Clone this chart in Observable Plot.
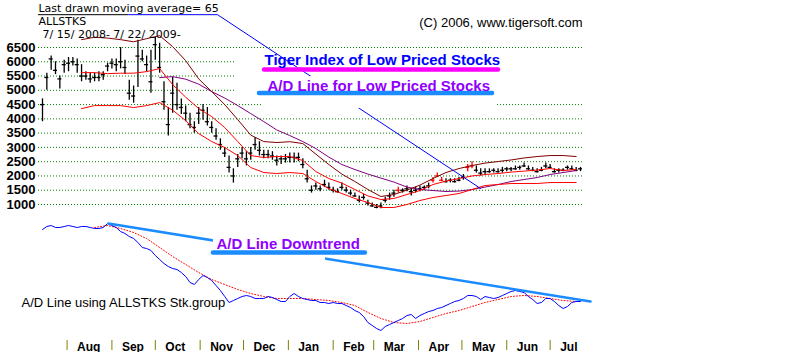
<!DOCTYPE html>
<html><head><meta charset="utf-8">
<script src="https://cdn.jsdelivr.net/npm/d3@7"></script>
<script src="https://cdn.jsdelivr.net/npm/@observablehq/plot@0.6"></script>
<style>
html,body{margin:0;padding:0;background:#fff;}
#chart{position:relative;width:800px;height:352px;overflow:hidden;background:#fff;}
#chart svg{position:absolute;left:0;top:0;}
</style></head>
<body><div id="chart"></div>
<script>
const D = s => new Date(s);
const FONT = "'Liberation Sans', Arial, sans-serif";
const HEADER_FONT = "'DejaVu Sans', 'Liberation Sans', sans-serif";

// ---------- time frame ----------
const startDate = D("2008-07-15T00:00Z");
const endDate = D("2009-07-22T00:00Z");
const monthStarts = ["2008-08-01","2008-09-01","2008-10-01","2008-11-01","2008-12-01","2009-01-01",
  "2009-02-01","2009-03-01","2009-04-01","2009-05-01","2009-06-01","2009-07-01"].map(s => D(s + "T00:00Z"));

// ---------- price axis ----------
const priceTicks = [1000,1500,2000,2500,3000,3500,4000,4500,5000,5500,6000,6500];

// ---------- price bars (every 3rd calendar day) ----------
const barHigh = [4700,5600,6200,6000,5500,6050,6150,6150,6100,5900,
  5650,5600,5600,5650,5650,5950,6100,6100,6500,6050,
  5350,5150,6750,6400,6200,6400,6850,6650,5300,4400,
  5450,5250,4700,4450,4200,3900,4400,4500,4400,3900,
  3650,3300,3000,2700,2250,2750,3000,2850,3000,3350,
  3200,2900,2900,2850,2700,2700,2750,2800,2800,2800,
  2600,2200,1650,1750,1650,1850,1750,1600,1550,1750,
  1600,1500,1400,1300,1350,1150,1050,1000,1050,1250,
  1400,1500,1600,1550,1650,1550,1600,1650,1650,1750,
  1950,2100,1950,1900,1900,1900,1950,2050,2400,2500,
  2350,2250,2250,2250,2250,2250,2300,2300,2300,2350,
  2350,2450,2350,2300,2250,2300,2450,2400,2250,2250,
  2250,2350,2350,2300,2300];
const barLow = [3900,5000,5700,5550,5050,5600,5650,5850,5600,5300,
  5350,5250,5300,5300,5350,5650,5750,5650,5750,5550,
  4650,4550,5100,6000,5650,4900,6050,5600,4300,3400,
  4200,4300,4150,3900,3650,3500,3800,3950,3750,3500,
  3250,2900,2650,2100,1750,2300,2600,2350,2550,2900,
  2700,2600,2600,2550,2350,2400,2450,2450,2450,2500,
  2250,1750,1400,1500,1450,1600,1500,1400,1400,1500,
  1400,1300,1250,1050,1150,950,900,850,850,1050,
  1150,1250,1400,1400,1450,1300,1400,1450,1500,1550,
  1750,1950,1800,1750,1750,1750,1800,1850,2150,2250,
  2100,2000,2050,2100,2100,2100,2100,2150,2150,2200,
  2200,2300,2200,2150,2100,2150,2250,2250,2100,2100,
  2150,2200,2200,2150,2150];
const barClose = [4500,5450,6100,5700,5400,5900,5950,6000,5900,5500,
  5500,5400,5450,5450,5550,5850,5950,5900,6000,5800,
  4900,4800,6200,6100,5900,5300,6600,5800,4600,3800,
  4900,4500,4400,4200,3800,3700,4200,4300,3900,3700,
  3400,3100,2800,2300,2000,2600,2800,2600,2800,3100,
  2900,2750,2750,2700,2550,2600,2600,2650,2650,2650,
  2400,1900,1500,1650,1550,1700,1600,1500,1450,1600,
  1500,1400,1300,1150,1250,1050,950,900,950,1150,
  1300,1400,1500,1500,1550,1450,1500,1550,1600,1650,
  1850,2000,1850,1800,1850,1800,1850,1950,2300,2350,
  2200,2100,2150,2150,2200,2150,2200,2250,2250,2250,
  2300,2350,2250,2200,2150,2200,2350,2300,2150,2200,
  2200,2300,2250,2200,2250];
const redBars = [82,90,91,92,98,99];

// ---------- moving averages / bands (every 9th calendar day) ----------
const upperBand = [null,null,null,
  6775,6860,6830,6775,6700,6810,6915,6530,6040,5400,
  4955,4500,3975,3430,3205,3170,3200,3135,2765,2400,
  2065,1805,1525,1280,1350,1505,1680,1910,2120,2260,
  2365,2450,2505,2560,2630,2680,2715,2715,2680];
const midLine = [null,null,null,
  5620,5620,5585,5600,5600,5655,5760,5200,4760,4360,
  4080,3695,3205,2715,2645,2680,2680,2540,2155,1910,
  1750,1525,1300,1175,1210,1350,1490,1700,1820,1910,
  2000,2050,2085,2135,2170,2205,2260,2190,2225];
const lowerBand = [null,null,null,
  4360,4465,4465,4465,4395,4465,4570,4305,3940,3485,
  3205,2995,2715,2295,2120,2085,2120,2085,1805,1560,
  1385,1210,1070,895,895,1000,1140,1245,1315,1385,
  1525,1665,1700,1735,1735,1735,1770,1770,1770];
const longMA = [null,null,null,null,null,null,null,null,null,
  5445,5480,5390,5215,4955,4730,4465,4185,3905,3610,
  3415,3205,2960,2660,2400,2225,2065,1925,1785,1610,
  1525,1490,1455,1470,1525,1610,1700,1805,1875,1945,
  2050,2120,2190];

// ---------- A/D line (every 3rd day) and its average (every 9th day) ----------
const adLine = [910,940,950,930,930,940,950,940,930,940,
  940,930,920,920,930,970,950,930,890,870,
  840,820,780,730,720,700,650,610,570,540,
  520,510,480,440,380,360,410,450,430,400,
  350,300,240,180,200,220,240,250,240,220,
  220,220,240,230,210,190,190,240,270,240,
  220,210,200,200,180,180,170,180,170,170,
  150,130,100,80,40,-20,-50,-80,-100,-60,
  -40,-20,0,20,50,60,20,50,70,90,
  100,120,130,150,170,190,200,220,250,250,
  240,210,240,230,220,230,250,270,290,300,
  290,280,240,210,170,180,220,220,190,150,
  120,140,180,190,190];
const adAverage = [null,null,null,null,
  930,950,920,880,820,730,640,560,480,410,
  360,310,270,240,220,220,220,210,200,180,
  150,80,20,-20,-30,-10,30,70,100,140,
  180,210,240,250,240,220,200,190];

// ---------- annotations (data units) ----------
const headerTexts = ["Last drawn moving average= 65", "ALLSTKS", "7/ 15/ 2008- 7/ 22/ 2009-"];
const headerDates = ["2008-07-12T05:30Z", "2008-07-12T05:30Z", "2008-07-15T00:00Z"];
const headerPrices = [7738, 7283, 6828];
const copyrightText = "(C) 2006, www.tigersoft.com";
const copyrightAt = {date: "2009-07-23T10:00Z", price: 7213};
const titleUnderline = {from: "2008-07-12T05:30Z", to: "2008-09-12T12:00Z", price: 7650};
const pointerDates = ["2008-09-12T12:00Z", "2008-11-13T00:00Z", "2009-05-13T22:00Z"];
const pointerPrices = [7650, 7650, 1560];
const legendTexts = ["Tiger Index of Low Priced Stocks", "A/D Line for Low Priced Stocks"];
const legendDates = ["2008-12-15T12:00Z", "2008-12-17T14:00Z"];
const legendPrices = [5900, 4990];
const legendBarFrom = ["2008-12-15T12:00Z", "2008-12-12T00:00Z"];
const legendBarTo = ["2009-05-26T07:00Z", "2009-05-22T05:00Z"];
const legendBarPrice = [5725, 4903];
const gridMask = {from: "2008-11-26T02:00Z", to: "2009-07-24T02:00Z", hi: 6320, lo: 4745};
const legendMask = {from: "2008-12-14T02:00Z", to: "2009-05-25T14:00Z", hi: 5480, lo: 4360};

const adTrendDates = ["2008-08-29T14:00Z", "2009-07-28T22:00Z"];
const adTrendValues = [970, 190];
const adLabel = {text: "A/D Line Downtrend", date: "2008-11-12T07:00Z", value: 720};
const adLabelBar = {from: "2008-11-10T05:00Z", to: "2009-02-23T07:00Z", value: 680};
const adMask = {from: "2008-11-10T05:00Z", to: "2009-01-26T17:00Z", hi: 880, lo: 580};
const adCaption = {text: "A/D Line using ALLSTKS Stk.group", date: "2008-06-30T12:00Z", value: 135};

// ---------- build tables ----------
const barDates = barHigh.map((_, i) => d3.utcDay.offset(startDate, 3 * i));
const bars = barDates.map((date, i) => ({date, high: barHigh[i], low: barLow[i], close: barClose[i], red: redBars.includes(i)}));
const lineDates = midLine.map((_, k) => d3.utcDay.offset(startDate, 9 * k));
const series = arr => lineDates.map((date, k) => ({date, v: arr[k]}));
const adData = barDates.map((date, i) => ({date, v: adLine[i]}));
const adAvgData = lineDates.map((date, k) => ({date, v: adAverage[k]}));

const headers = headerTexts.map((text, i) => ({text, date: D(headerDates[i]), price: headerPrices[i]}));
const pointer = pointerDates.map((d, i) => ({date: D(d), price: pointerPrices[i]}));
const legends = legendTexts.map((text, i) => ({text, date: D(legendDates[i]), price: legendPrices[i],
  x1: D(legendBarFrom[i]), x2: D(legendBarTo[i]), bar: legendBarPrice[i]}));

const xScale = {type: "utc", domain: [startDate, endDate], axis: null};
const commonStyle = {fontFamily: FONT, background: "transparent", overflow: "visible"};

const pricePlot = Plot.plot({
  width: 800, height: 352,
  marginLeft: 42, marginRight: 220, marginTop: 0, marginBottom: 0,
  x: xScale,
  y: {domain: [1000, 6500], range: [204, 47], axis: null},
  style: commonStyle,
  marks: [
    Plot.ruleY(priceTicks, {y: d => d, stroke: "#008000", strokeDasharray: "1,2", insetLeft: -4, insetRight: -3}),
    Plot.rect([gridMask], {x1: d => D(d.from), x2: d => D(d.to), y1: "lo", y2: "hi", fill: "white"}),
    Plot.ruleX(bars, {filter: d => !d.red, x: "date", y1: "low", y2: "high", stroke: "#000", strokeWidth: 1.3}),
    Plot.ruleY(bars, {filter: d => !d.red, y: "close", x1: "date", x2: "date", insetLeft: -2, insetRight: -2, stroke: "#000", strokeWidth: 1.3}),
    Plot.ruleX(bars, {filter: d => d.red, x: "date", y1: "low", y2: "high", stroke: "#ff0000", strokeWidth: 1.3}),
    Plot.ruleY(bars, {filter: d => d.red, y: "close", x1: "date", x2: "date", insetLeft: -2, insetRight: -2, stroke: "#ff0000", strokeWidth: 1.3}),
    Plot.line(series(longMA), {x: "date", y: "v", stroke: "#800080", strokeWidth: 1}),
    Plot.line(series(upperBand), {x: "date", y: "v", stroke: "#800000", strokeWidth: 1}),
    Plot.line(series(lowerBand), {x: "date", y: "v", stroke: "#ff0000", strokeWidth: 1}),
    Plot.line(series(midLine), {x: "date", y: "v", stroke: "#ff0000", strokeWidth: 1}),
    Plot.ruleY([titleUnderline], {y: "price", x1: d => D(d.from), x2: d => D(d.to), stroke: "#000", strokeWidth: 1}),
    Plot.line(pointer, {x: "date", y: "price", stroke: "#0000ff", strokeWidth: 1}),
    Plot.rect([legendMask], {x1: d => D(d.from), x2: d => D(d.to), y1: "lo", y2: "hi", fill: "white"}),
    Plot.ruleY(legends.slice(0, 1), {y: "bar", x1: "x1", x2: "x2", stroke: "#ff00ff", strokeWidth: 4.5, strokeLinecap: "round"}),
    Plot.ruleY(legends.slice(1, 2), {y: "bar", x1: "x1", x2: "x2", stroke: "#1a8cff", strokeWidth: 4.5, strokeLinecap: "round"}),
    Plot.text(legends.slice(0, 1), {x: "date", y: "price", text: "text", fill: "#0000ff", fontWeight: "bold", fontSize: 15, textAnchor: "start", lineAnchor: "bottom"}),
    Plot.text(legends.slice(1, 2), {x: "date", y: "price", text: "text", fill: "#8f00ff", fontWeight: "bold", fontSize: 15, textAnchor: "start", lineAnchor: "bottom"}),
    Plot.text(headers, {x: "date", y: "price", text: "text", fill: "#000", fontSize: 11, fontFamily: HEADER_FONT, textAnchor: "start", lineAnchor: "bottom"}),
    Plot.text([copyrightAt], {x: d => D(d.date), y: "price", text: () => copyrightText, fill: "#000", fontSize: 13, textAnchor: "end", lineAnchor: "bottom"}),
    Plot.text(priceTicks, {y: d => d, text: d => String(d), frameAnchor: "left", dx: -36, textAnchor: "start", fontWeight: "bold", fontSize: 13, fill: "#000"})
  ]
});

const adPlot = Plot.plot({
  width: 800, height: 352,
  marginLeft: 42, marginRight: 220, marginTop: 0, marginBottom: 2,
  x: xScale,
  y: {domain: [-100, 1000], range: [330, 220], axis: null},
  style: commonStyle,
  marks: [
    Plot.line(adAvgData, {x: "date", y: "v", stroke: "#ff0000", strokeWidth: 1, strokeDasharray: "1,2"}),
    Plot.line(adData, {x: "date", y: "v", stroke: "#0000ff", strokeWidth: 1}),
    Plot.line(adTrendDates.map((d, i) => ({date: D(d), v: adTrendValues[i]})), {x: "date", y: "v", stroke: "#1a8cff", strokeWidth: 2.5}),
    Plot.rect([adMask], {x1: d => D(d.from), x2: d => D(d.to), y1: "lo", y2: "hi", fill: "white"}),
    Plot.ruleY([adLabelBar], {y: "value", x1: d => D(d.from), x2: d => D(d.to), stroke: "#1a8cff", strokeWidth: 4.5, strokeLinecap: "round"}),
    Plot.text([adLabel], {x: d => D(d.date), y: "value", text: "text", fill: "#8f00ff", fontWeight: "bold", fontSize: 15, textAnchor: "start", lineAnchor: "bottom"}),
    Plot.text([adCaption], {x: d => D(d.date), y: "value", text: "text", fill: "#000", fontSize: 13, textAnchor: "start", lineAnchor: "bottom"}),
    Plot.ruleX(monthStarts, {x: d => d, insetTop: 340, stroke: "#808000", strokeWidth: 1}),
    Plot.text(monthStarts, {x: d => d, text: d => d3.utcFormat("%b")(d), frameAnchor: "bottom", dx: 10, textAnchor: "start", lineAnchor: "bottom", fontWeight: "bold", fontSize: 12, fill: "#000"})
  ]
});

const chart = document.getElementById("chart");
chart.appendChild(pricePlot);
chart.appendChild(adPlot);
</script>
</body></html>
